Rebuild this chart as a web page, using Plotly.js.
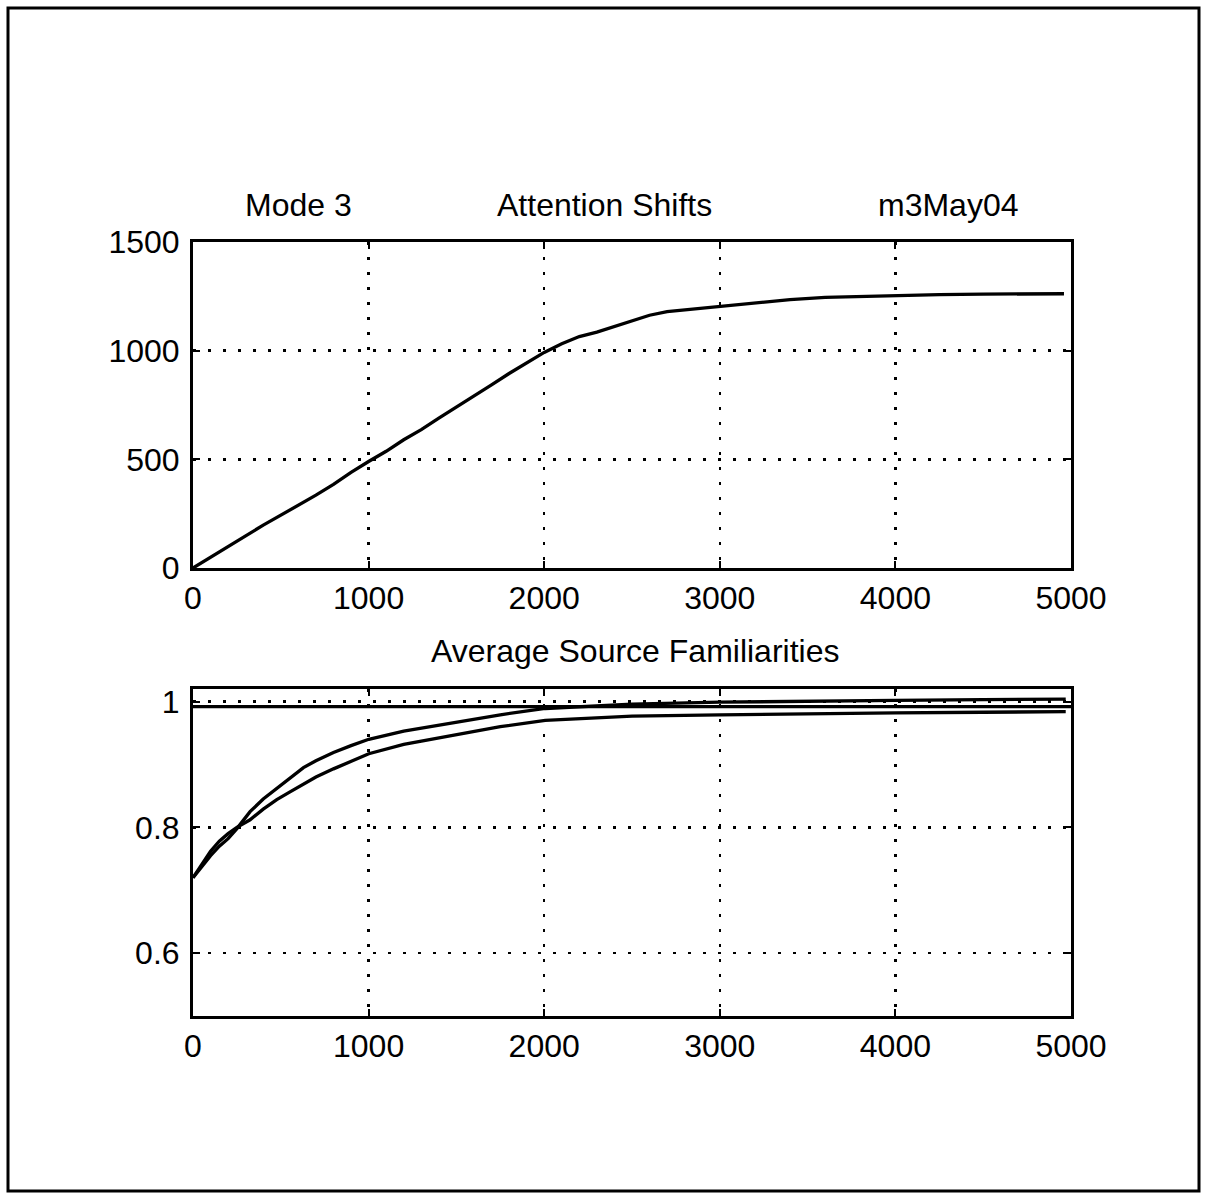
<!DOCTYPE html>
<html>
<head>
<meta charset="utf-8">
<script src="https://cdn.plot.ly/plotly-3.0.1.min.js"></script>
<style>html,body{margin:0;padding:0;background:#fff;}#chart{width:1206px;height:1196px;}</style>
</head>
<body>
<div id="chart"></div>
<script>
// ---- Data ----
const shiftsX = [0,100,200,300,400,500,600,700,800,900,1000,1100,1200,1300,1400,1500,1600,1700,1800,1900,2000,2100,2200,2300,2400,2500,2600,2700,2800,2900,3000,3200,3400,3600,3800,4000,4250,4500,4750,4960];
const shiftsY = [0,48,97,148,197,243,287,335,385,440,490,537,590,637,690,740,790,843,895,945,992,1032,1065,1085,1110,1135,1163,1180,1188,1195,1205,1222,1235,1245,1250,1255,1258,1260,1261,1262];

const famX = [0,50,100,150,200,250,325,400,477,550,629,700,800,900,1001,1200,1500,1750,2006,2250,2500,3000,3500,4000,4500,4970];
const famA = [0.72,0.738,0.755,0.770,0.782,0.798,0.825,0.845,0.862,0.878,0.895,0.906,0.919,0.930,0.940,0.953,0.967,0.979,0.989,0.993,0.996,0.999,1.001,1.002,1.003,1.004];
const famB = [0.72,0.742,0.762,0.778,0.790,0.800,0.812,0.829,0.844,0.856,0.868,0.880,0.893,0.905,0.917,0.932,0.948,0.960,0.970,0.974,0.977,0.979,0.981,0.982,0.983,0.984];
const flatX = [0,5000];
const flatY = [0.992,0.992];

const xTicks = [0,1000,2000,3000,4000,5000];
const xTickText = ['0','1000','2000','3000','4000','5000'];
const y1Ticks = [0,500,1000,1500];
const y1TickText = ['0','500','1000','1500'];
const y2Ticks = [0.6,0.8,1];
const y2TickText = ['0.6','0.8','1'];

const headLeft = 'Mode 3';
const headMid = 'Attention Shifts';
const headRight = 'm3May04';
const title2 = 'Average Source Familiarities';

// ---- Plot ----
const W = 1206, H = 1196;
const FONT = {family: 'Liberation Sans, Arial, sans-serif', size: 32, color: '#000'};
const px = v => v / W;
const py = v => 1 - v / H;

const lineStyle = {color: '#000', width: 3.3};
const traces = [
  {x: shiftsX, y: shiftsY, xaxis: 'x', yaxis: 'y', mode: 'lines', line: lineStyle, hoverinfo: 'skip'},
  {x: flatX, y: flatY, xaxis: 'x2', yaxis: 'y2', mode: 'lines', line: lineStyle, hoverinfo: 'skip'},
  {x: famX, y: famA, xaxis: 'x2', yaxis: 'y2', mode: 'lines', line: lineStyle, hoverinfo: 'skip'},
  {x: famX, y: famB, xaxis: 'x2', yaxis: 'y2', mode: 'lines', line: lineStyle, hoverinfo: 'skip'}
];

const axisCommon = {
  showline: true, linecolor: '#000', linewidth: 3, mirror: 'ticks',
  ticks: 'inside', ticklen: 7, tickwidth: 2, tickcolor: '#000',
  showgrid: true, gridcolor: '#000', gridwidth: 2.5, griddash: '2.5px,12.5px',
  zeroline: false, tickfont: FONT, fixedrange: true
};
const xDomain = [px(193), px(1071)];

const layout = {
  width: W, height: H,
  margin: {l: 0, r: 0, t: 0, b: 0},
  paper_bgcolor: '#fff', plot_bgcolor: '#fff',
  showlegend: false,
  font: FONT,
  xaxis: Object.assign({}, axisCommon, {domain: xDomain, range: [0,5000], tickvals: xTicks, ticktext: xTickText, anchor: 'y', ticklabelstandoff: 0}),
  yaxis: Object.assign({}, axisCommon, {domain: [py(568), py(242)], range: [0,1500], tickvals: y1Ticks, ticktext: y1TickText, anchor: 'x', ticklabelstandoff: 4}),
  xaxis2: Object.assign({}, axisCommon, {domain: xDomain, range: [0,5000], tickvals: xTicks, ticktext: xTickText, anchor: 'y2', ticklabelstandoff: 0}),
  yaxis2: Object.assign({}, axisCommon, {domain: [py(1016), py(689)], range: [0.5,1.02], tickvals: y2Ticks, ticktext: y2TickText, anchor: 'x2', ticklabelstandoff: 4}),
  annotations: [
    {text: headLeft, xref: 'paper', yref: 'paper', x: px(298), y: py(205), xanchor: 'center', yanchor: 'middle', showarrow: false, font: FONT},
    {text: headMid, xref: 'paper', yref: 'paper', x: px(604), y: py(205), xanchor: 'center', yanchor: 'middle', showarrow: false, font: FONT},
    {text: headRight, xref: 'paper', yref: 'paper', x: px(948), y: py(205), xanchor: 'center', yanchor: 'middle', showarrow: false, font: FONT},
    {text: title2, xref: 'paper', yref: 'paper', x: px(635), y: py(651), xanchor: 'center', yanchor: 'middle', showarrow: false, font: FONT}
  ],
  shapes: [
    {type: 'rect', xref: 'paper', yref: 'paper', x0: px(8), x1: px(1199), y0: py(8), y1: py(1191), line: {color: '#000', width: 3}, fillcolor: 'rgba(0,0,0,0)', layer: 'above'}
  ]
};

Plotly.newPlot('chart', traces, layout, {staticPlot: true, displayModeBar: false});
</script>
</body>
</html>
